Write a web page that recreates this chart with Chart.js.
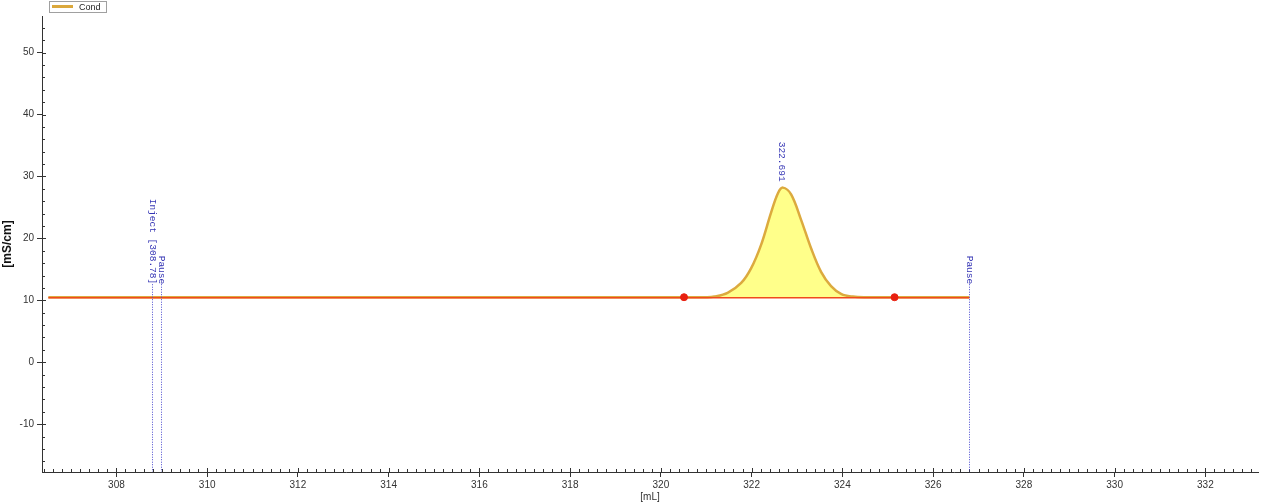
<!DOCTYPE html>
<html><head><meta charset="utf-8">
<script src="https://cdn.jsdelivr.net/npm/chart.js@4"></script>
<style>html,body{margin:0;padding:0;background:#fff;overflow:hidden}#wrap{width:1268px;height:504px;position:relative}</style>
</head><body><div id="wrap"><canvas id="c" width="1268" height="504"></canvas></div>
<script>
// ---- data ----
const seriesName = 'Cond';
const condX = [306.5, 308.0, 310.0, 312.0, 314.0, 316.0, 318.0, 320.0, 320.51, 321.0, 321.18, 321.47, 321.77, 321.99, 322.21, 322.43, 322.58, 322.69, 322.87, 323.09, 323.31, 323.53, 323.75, 323.98, 324.23, 324.5, 325.15, 326.0, 326.8];
const condY = [10.5, 10.5, 10.5, 10.5, 10.5, 10.5, 10.5, 10.5, 10.5, 10.5, 10.6, 11.2, 12.8, 15.2, 19.0, 24.2, 27.3, 28.2, 27.1, 23.0, 18.4, 14.6, 12.3, 11.0, 10.6, 10.5, 10.5, 10.5, 10.5];
const baselineX = [306.5, 326.8];
const baselineY = [10.42, 10.42];
const peakLimitX = [320.51, 325.15];
const peakLimitY = [10.5, 10.5];
const eventX = [308.78, 308.98, 326.8];
const eventLabels = ['Inject [308.78]', 'Pause', 'Pause'];
const peakApexX = 322.691;
const peakApexY = 28.2;
const peakApexLabel = '322.691';
const xTitle = '[mL]';
const yTitle = '[mS/cm]';

const toXY = (xs, ys) => xs.map((x, i) => ({x: x, y: ys[i]}));
const AXIS = '#333333';
const TICKFONT = {family: 'Liberation Sans', size: 10};

const decorPlugin = {
  id: 'decor',
  afterDraw(chart) {
    const ctx = chart.ctx, xs = chart.scales.x, ys = chart.scales.y, ca = chart.chartArea;
    ctx.save();
    // minor & inner ticks
    ctx.strokeStyle = AXIS; ctx.lineWidth = 1;
    ctx.beginPath();
    for (let i = Math.ceil(xs.min / 0.2); i <= Math.floor(xs.max / 0.2); i++) {
      const px = Math.round(xs.getPixelForValue(i * 0.2)) + 0.5;
      ctx.moveTo(px, ca.bottom); ctx.lineTo(px, ca.bottom - (i % 10 === 0 ? 4 : 3));
    }
    for (let i = Math.ceil(ys.min / 2); i <= Math.floor(ys.max / 2); i++) {
      const py = Math.round(ys.getPixelForValue(i * 2)) + 0.5;
      ctx.moveTo(ca.left, py); ctx.lineTo(ca.left + (i % 5 === 0 ? 4 : 3), py);
    }
    ctx.stroke();
    // event markers
    const baseY = ys.getPixelForValue(condY[0]);
    ctx.font = '9.5px "Liberation Mono"';
    ctx.fillStyle = '#3434b4';
    eventX.forEach((ex, i) => {
      const px = Math.round(xs.getPixelForValue(ex)) + 0.5;
      const top = baseY - 13;
      ctx.strokeStyle = '#4a4ad0'; ctx.setLineDash([1, 1.5]);
      ctx.beginPath(); ctx.moveTo(px, top); ctx.lineTo(px, ca.bottom); ctx.stroke();
      ctx.setLineDash([]);
      ctx.save(); ctx.translate(px, top); ctx.rotate(Math.PI / 2);
      ctx.textAlign = 'right'; ctx.textBaseline = 'middle';
      ctx.fillText(eventLabels[i], 0, 0); ctx.restore();
    });
    // peak apex label
    const ax = xs.getPixelForValue(peakApexX), ay = ys.getPixelForValue(peakApexY) - 6;
    ctx.save(); ctx.translate(ax - 1, ay); ctx.rotate(Math.PI / 2);
    ctx.textAlign = 'right'; ctx.textBaseline = 'middle';
    ctx.fillText(peakApexLabel, 0, 0); ctx.restore();
    // legend
    ctx.strokeStyle = '#a0a0a0'; ctx.lineWidth = 1;
    ctx.strokeRect(49.5, 1.5, 57, 11);
    ctx.strokeStyle = '#dba83c'; ctx.lineWidth = 3;
    ctx.beginPath(); ctx.moveTo(52, 6.5); ctx.lineTo(73, 6.5); ctx.stroke();
    ctx.fillStyle = '#222'; ctx.font = '9px "Liberation Sans"';
    ctx.textAlign = 'left'; ctx.textBaseline = 'middle';
    ctx.fillText(chart.data.datasets[0].label, 79, 7.5);
    ctx.restore();
  }
};

new Chart(document.getElementById('c'), {
  type: 'scatter',
  data: {
    datasets: [
      {label: seriesName, data: toXY(condX, condY), showLine: true, borderColor: '#dcaa3e', borderWidth: 2.5,
       pointRadius: 0, tension: 0.35, fill: {value: 10.5}, backgroundColor: 'rgba(255,255,125,0.9)', order: 3},
      {label: 'baseline', data: toXY(baselineX, baselineY), showLine: true, borderColor: '#f04a1c', borderWidth: 1.5,
       pointRadius: 0, fill: false, order: 2},
      {label: 'limits', data: toXY(peakLimitX, peakLimitY), showLine: false, pointRadius: 3.5,
       pointBackgroundColor: '#e82010', pointBorderColor: '#e82010', order: 1}
    ]
  },
  options: {
    responsive: false, animation: false, devicePixelRatio: 1,
    layout: {padding: {top: 16, right: 10, left: 0, bottom: 0}},
    plugins: {legend: {display: false}, tooltip: {enabled: false}},
    scales: {
      x: {type: 'linear', min: 306.36, max: 333.16,
          ticks: {stepSize: 2, includeBounds: false, font: TICKFONT, color: AXIS, padding: 2, maxRotation: 0},
          grid: {drawOnChartArea: false, drawTicks: true, tickLength: 5, color: AXIS},
          border: {color: AXIS, width: 1},
          title: {display: true, text: xTitle, font: {family: 'Liberation Sans', size: 10}, color: AXIS, padding: {top: 0, bottom: 1}},
          afterFit(s) { s.height = 32; }},
      y: {type: 'linear', min: -17.73, max: 55.92,
          ticks: {stepSize: 10, includeBounds: false, font: TICKFONT, color: AXIS, padding: 3},
          grid: {drawOnChartArea: false, drawTicks: true, tickLength: 5, color: AXIS},
          border: {color: AXIS, width: 1},
          title: {display: true, text: yTitle, font: {family: 'Liberation Sans', size: 12, weight: 'bold'}, color: '#111', padding: 0},
          afterFit(s) { s.width = 42; }}
    }
  },
  plugins: [decorPlugin]
});
</script></body></html>
